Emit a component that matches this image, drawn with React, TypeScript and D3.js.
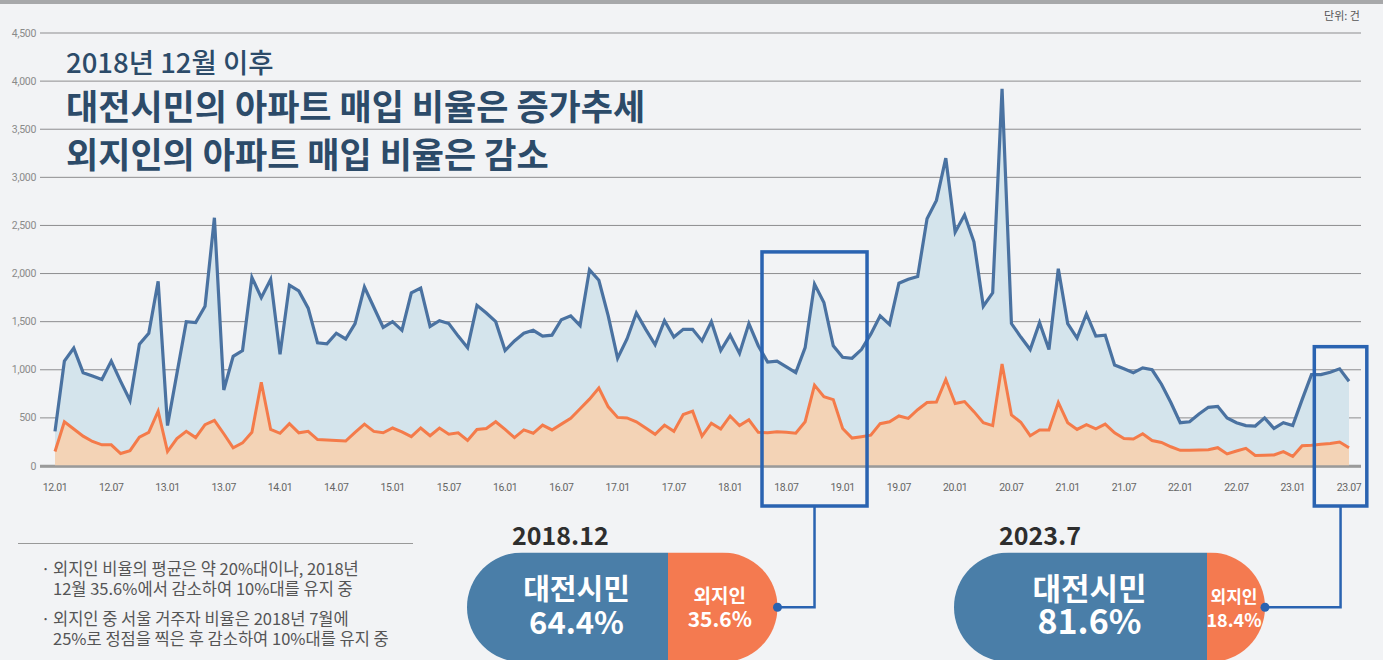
import * as d3 from 'd3';

// 월별 아파트 매입 건수 (2012.01 ~ 2023.07)
const total = [
  360, 1090, 1225, 970, 935, 900, 1090, 880, 680, 1265, 1380, 1920,
  420, 960, 1500, 1490, 1660, 2580, 790, 1140, 1200, 1960, 1750, 1940,
  1160, 1880, 1820, 1640, 1280, 1270, 1380, 1320, 1480, 1860, 1650, 1440,
  1500, 1410, 1800, 1850, 1450, 1510, 1480, 1350, 1230, 1670, 1590, 1500,
  1200, 1300, 1380, 1410, 1350, 1360, 1520, 1560, 1460, 2040, 1930, 1560,
  1120, 1320, 1590, 1420, 1260, 1510, 1340, 1420, 1420, 1300, 1500, 1200,
  1360, 1170, 1480, 1250, 1080, 1090, 1030, 970, 1230, 1890, 1700, 1250,
  1130, 1120, 1210, 1370, 1560, 1470, 1900, 1940, 1970, 2570, 2760, 3200,
  2430, 2610, 2330, 1660, 1800, 3920, 1480, 1340, 1210, 1490, 1210, 2050,
  1480, 1330, 1580, 1350, 1360, 1050, 1010, 970, 1020, 1000, 850, 660,
  450, 460, 540, 610, 620, 500, 450, 420, 415, 500, 390, 450,
  420, 690, 950, 950, 975, 1010, 880,
];

const outsiders = [
  150, 460, 385, 310, 255, 220, 220, 130, 160, 300, 350, 570,
  150, 285, 360, 295, 430, 475, 335, 190, 240, 350, 870, 380,
  340, 440, 345, 360, 275, 270, 265, 260, 350, 435, 360, 345,
  395, 355, 305, 395, 315, 395, 330, 345, 265, 380, 390, 460,
  380, 295, 375, 340, 425, 375, 435, 495, 595, 695, 810, 615,
  505, 500, 460, 395, 330, 425, 360, 535, 570, 310, 445, 385,
  520, 420, 480, 350, 345, 355, 350, 340, 460, 840, 720, 690,
  390, 290, 305, 320, 440, 460, 520, 495, 585, 660, 665, 900,
  650, 670, 565, 450, 420, 1060, 530, 455, 315, 375, 375, 660,
  450, 380, 430, 385, 435, 345, 285, 280, 335, 265, 245, 200,
  163, 163, 166, 170, 190, 125, 156, 183, 110, 112, 115, 150,
  100, 210, 215, 225, 235, 250, 190,
];

const tickLabels = [
  '12.01', '12.07', '13.01', '13.07', '14.01', '14.07', '15.01', '15.07',
  '16.01', '16.07', '17.01', '17.07', '18.01', '18.07', '19.01', '19.07',
  '20.01', '20.07', '21.01', '21.07', '22.01', '22.07', '23.01', '23.07',
];

const notes = [
  ['외지인 비율의 평균은 약 20%대이나, 2018년', '12월 35.6%에서 감소하여 10%대를 유지 중'],
  ['외지인 중 서울 거주자 비율은 2018년 7월에', '25%로 정점을 찍은 후 감소하여 10%대를 유지 중'],
];

const callouts = [
  { period: '2018.12', local: '64.4%', outside: '35.6%', from: 75.4, to: 86.6, top: 2225 },
  { period: '2023.7', local: '81.6%', outside: '18.4%', from: 134.3, to: 139.9, top: 1240 },
];

const W = 1383;
const H = 660;
const KR = '"Noto Sans CJK KR", "Noto Sans", sans-serif';

const BLUE = '#4a72a1';
const BLUE_FILL = '#d4e4ec';
const ORANGE = '#f47b4a';
const ORANGE_FILL = '#f3d3b6';
const BOX = '#2a63b1';

function Pill({ x, w, split, y, h, cx, label, p }: {
  x: number; w: number; split: number; y: number; h: number; cx: number;
  label: typeof callouts[number]; p: number;
}) {
  const r = h / 2;
  const id = `pill-${p}`;
  const small = w - (split - x) < 80;
  const leftMid = x + (split - x) / 2 + 9;
  const rightMid = split + (x + w - split) / 2 + (small ? -2 : -3);
  return (
    <g>
      <defs>
        <clipPath id={id}>
          <rect x={x} y={y} width={w} height={h} rx={r} ry={r} />
        </clipPath>
      </defs>
      <g clipPath={`url(#${id})`}>
        <rect x={x} y={y} width={split - x} height={h} fill="#4a7ea8" />
        <rect x={split} y={y} width={x + w - split} height={h} fill="#f47a50" />
      </g>
      <text x={x + 45} y={y - 8} fontFamily={KR} fontWeight={700} fontSize={25} fill="#2e2e2e">
        {label.period}
      </text>
      <text x={leftMid} y={y + 47} textAnchor="middle" fontFamily={KR} fontWeight={700}
        fontSize={p === 0 ? 29 : 31} fill="#fff">대전시민</text>
      <text x={leftMid} y={y + 81} textAnchor="middle" fontFamily={KR} fontWeight={700}
        fontSize={p === 0 ? 31 : 34} fill="#fff">{label.local}</text>
      <text x={rightMid} y={y + 50} textAnchor="middle" fontFamily={KR} fontWeight={700}
        fontSize={small ? 17 : 19} fill="#fff">외지인</text>
      <text x={rightMid} y={y + 74} textAnchor="middle" fontFamily={KR} fontWeight={700}
        fontSize={small ? 18 : 21} fill="#fff">{label.outside}</text>
      <circle cx={cx} cy={y + r} r={4.5} fill={BOX} />
    </g>
  );
}

export default function App() {
  const x = d3.scaleLinear().domain([0, total.length - 1]).range([55, 1349]);
  const y = d3.scaleLinear().domain([0, 4500]).range([466, 33]);
  const yTicks = d3.range(0, 4501, 500);
  const fmt = d3.format(',');

  const area = d3.area<number>().x((_, i) => x(i)).y0(y(0)).y1((d) => y(d));
  const line = d3.line<number>().x((_, i) => x(i)).y((d) => y(d));

  const pills = [
    { x: 467, w: 310.5, split: 668 },
    { x: 954, w: 311, split: 1207 },
  ];
  const pillY = 552.5;
  const pillH = 109.5;

  return (
    <svg width={W} height={H} style={{ position: 'absolute', left: 0, top: 0 }}>
      <rect width={W} height={H} fill="#f2f3f5" />
      <rect width={W} height={4} fill="#a7a8aa" />
      <text x={1360} y={20} textAnchor="end" fontFamily={KR} fontSize={11} fill="#555">단위: 건</text>

      {/* grid + y labels */}
      {yTicks.map((t) => (
        <g key={t}>
          <line x1={40} x2={1361} y1={y(t)} y2={y(t)}
            stroke={t === 0 ? '#9a9a9a' : '#8d8d8f'} strokeWidth={t === 0 ? 2.5 : 1} />
          <text x={36} y={y(t)} dy="0.34em" textAnchor="end" fontFamily="Roboto, sans-serif"
            fontSize={10.5} fill="#8a8a8a" letterSpacing={-0.3}>{fmt(t)}</text>
        </g>
      ))}

      {/* areas and lines */}
      <path d={area(total) ?? ''} fill={BLUE_FILL} />
      <path d={area(outsiders) ?? ''} fill={ORANGE_FILL} />
      <path d={line(total) ?? ''} fill="none" stroke={BLUE} strokeWidth={3.2} strokeLinejoin="miter" />
      <path d={line(outsiders) ?? ''} fill="none" stroke={ORANGE} strokeWidth={3} strokeLinejoin="miter" />
      <line x1={40} x2={1361} y1={y(0) + 0.5} y2={y(0) + 0.5} stroke="#9a9a9a" strokeWidth={2.5} />

      {/* x labels */}
      {tickLabels.map((l, i) => (
        <text key={l} x={x(i * 6)} y={491} textAnchor="middle" fontFamily="Roboto, sans-serif"
          fontSize={10.5} fill="#666" letterSpacing={-0.4}>{l}</text>
      ))}

      {/* titles */}
      <text x={66} y={73} fontFamily={KR} fontSize={27.5} fontWeight={500} fill="#2c4b69">2018년 12월 이후</text>
      <text x={66} y={120} fontFamily={KR} fontSize={35} fontWeight={700} fill="#2c4b69">
        대전시민의 아파트 매입 비율은 증가추세
      </text>
      <text x={66} y={168} fontFamily={KR} fontSize={35} fontWeight={700} fill="#2c4b69">
        외지인의 아파트 매입 비율은 감소
      </text>

      {/* highlight boxes + connectors */}
      {callouts.map((c, i) => {
        const x0 = x(c.from);
        const x1 = x(c.to);
        const mid = (x0 + x1) / 2;
        const p = pills[i];
        const cy = pillY + pillH / 2;
        return (
          <g key={c.period}>
            <rect x={x0} y={y(c.top)} width={x1 - x0} height={506 - y(c.top)}
              fill="none" stroke={BOX} strokeWidth={3.5} />
            <polyline points={`${mid},506 ${mid},${cy} ${p.x + p.w},${cy}`}
              fill="none" stroke={BOX} strokeWidth={2.5} />
          </g>
        );
      })}

      {/* notes */}
      <line x1={18} x2={413} y1={543.5} y2={543.5} stroke="#999" strokeWidth={1} />
      {notes.map((n, i) => (
        <g key={i} fontFamily={KR} fontSize={16.5} fill="#555">
          <text x={41} y={575 + i * 50}>·</text>
          <text x={53} y={575 + i * 50}>{n[0]}</text>
          <text x={53} y={595 + i * 50}>{n[1]}</text>
        </g>
      ))}

      {pills.map((p, i) => (
        <Pill key={i} x={p.x} w={p.w} split={p.split} y={pillY} h={pillH}
          cx={p.x + p.w} label={callouts[i]} p={i} />
      ))}
    </svg>
  );
}
